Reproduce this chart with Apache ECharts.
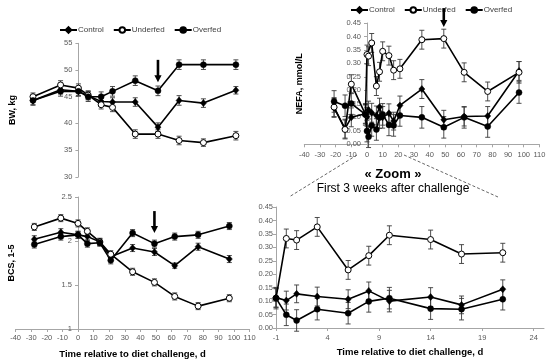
<!DOCTYPE html>
<html>
<head>
<meta charset="utf-8">
<script src="https://cdn.jsdelivr.net/npm/echarts@6/dist/echarts.min.js"></script>
<style>html,body{margin:0;padding:0;background:#fff}#c{width:550px;height:360px}</style>
</head>
<body>
<div id="c"></div>
<script>
// ---------- data ----------
const seriesNames = ['Control', 'Underfed', 'Overfed'];

// Body weight & BCS sampling days
const daysBW = [-28, -11, 0, 6, 14, 21, 35, 49, 62, 77, 97];
const bwControl  = [44.3, 46.3, 46.0, 45.2, 44.1, 44.0, 44.0, 39.3, 44.3, 43.8, 46.2];
const bwUnderfed = [45.0, 47.2, 46.6, 45.3, 43.5, 43.0, 38.0, 38.0, 36.8, 36.4, 37.7];
const bwOverfed  = [44.3, 46.0, 46.0, 45.0, 45.0, 46.0, 48.0, 46.1, 51.0, 51.0, 51.0];
const bwSEControl  = [0.8, 0.8, 0.8, 0.8, 0.9, 0.8, 0.8, 0.8, 0.9, 0.8, 0.7];
const bwSEUnderfed = [0.7, 0.8, 0.8, 0.8, 0.8, 0.8, 0.8, 0.8, 0.8, 0.7, 0.8];
const bwSEOverfed  = [0.9, 0.9, 0.9, 0.9, 0.9, 0.9, 0.9, 0.9, 0.9, 0.9, 0.9];

const bcsControl  = [2.02, 2.10, 2.07, 2.05, 1.99, 1.82, 1.92, 1.875, 1.72, 1.935, 1.795];
const bcsUnderfed = [2.16, 2.26, 2.20, 2.11, 1.99, 1.85, 1.65, 1.53, 1.37, 1.26, 1.35];
const bcsOverfed  = [1.96, 2.05, 2.07, 1.97, 1.98, 1.78, 2.09, 1.97, 2.05, 2.07, 2.17];
const bcsSEControl  = [0.04, 0.04, 0.04, 0.04, 0.04, 0.04, 0.04, 0.04, 0.03, 0.04, 0.04];
const bcsSEUnderfed = [0.04, 0.04, 0.04, 0.04, 0.04, 0.04, 0.04, 0.04, 0.04, 0.04, 0.04];
const bcsSEOverfed  = [0.04, 0.04, 0.04, 0.04, 0.04, 0.04, 0.04, 0.04, 0.04, 0.04, 0.04];

// NEFA sampling days
const daysNEFA = [-21, -14, -10, -1, 0, 1, 3, 6, 8, 10, 14, 17, 21, 35, 49, 62, 77, 97];
const nefaControl  = [0.135, 0.058, 0.100, 0.113, 0.102, 0.127, 0.117, 0.107, 0.138, 0.100, 0.115, 0.086, 0.144, 0.205, 0.091, 0.103, 0.105, 0.272];
const nefaUnderfed = [0.138, 0.055, 0.223, 0.111, 0.333, 0.327, 0.376, 0.216, 0.269, 0.345, 0.329, 0.275, 0.280, 0.388, 0.392, 0.267, 0.196, 0.267];
const nefaOverfed  = [0.159, 0.143, 0.151, 0.111, 0.049, 0.028, 0.070, 0.055, 0.099, 0.111, 0.072, 0.070, 0.107, 0.100, 0.063, 0.100, 0.066, 0.192];
const nefaSEControl  = [0.035, 0.035, 0.035, 0.035, 0.035, 0.033, 0.035, 0.035, 0.033, 0.040, 0.035, 0.033, 0.035, 0.035, 0.035, 0.035, 0.035, 0.035];
const nefaSEUnderfed = [0.035, 0.035, 0.035, 0.035, 0.035, 0.035, 0.035, 0.035, 0.035, 0.035, 0.035, 0.035, 0.035, 0.035, 0.035, 0.035, 0.035, 0.040];
const nefaSEOverfed  = [0.040, 0.040, 0.040, 0.040, 0.040, 0.040, 0.040, 0.040, 0.040, 0.040, 0.040, 0.040, 0.040, 0.040, 0.040, 0.040, 0.040, 0.040];

// zoom window (first 3 weeks)
const zoomFrom = -1, zoomTo = 21;

// arrows marking day 49 : [day, start value, tip value]
const arrowBW   = [49, 51.9, 47.7];
const arrowBCS  = [49, 2.34, 2.09];
const arrowNEFA = [49, 0.505, 0.435];

const xTitle = 'Time relative to diet challenge, d';

// ---------- layout ----------
const W = 550;
const grids = [
  { left: 13.5, right: 293, top: 43.3, bottom: 183.2 },   // BW
  { left: 15.6, right: 300.4, top: 197, bottom: 31 },     // BCS
  { left: 304.3, right: 10.6, top: 23, bottom: 215.7 },   // NEFA
  { left: 276, right: 6, top: 207, bottom: 32 }           // NEFA zoom
];
const xRanges = [[-40, 110], [-40, 110], [-40, 110], [zoomFrom, 25]];
// offset that puts a y axis where x = 0 (axis crossing like the original)
function zeroOffset(g, r) {
  const w = W - grids[g].left - grids[g].right;
  return -(0 - r[0]) / (r[1] - r[0]) * w;
}

// ---------- helpers ----------
const FONT = 'Liberation Sans, Arial, sans-serif';
const AXC = '#a6a6a6', LBC = '#595959';

const symStyles = {
  Control:  { symbol: 'diamond', symbolSize: [6, 7], itemStyle: { color: '#000', borderColor: '#000', borderWidth: 0.5 } },
  Underfed: { symbol: 'circle', symbolSize: 6, itemStyle: { color: '#fff', borderColor: '#000', borderWidth: 1 } },
  Overfed:  { symbol: 'circle', symbolSize: 6, itemStyle: { color: '#000', borderColor: '#000', borderWidth: 0.5 } }
};

function lineSeries(name, idx, days, vals) {
  const s = symStyles[name];
  return {
    name: name, type: 'line', xAxisIndex: idx, yAxisIndex: idx, z: 3,
    symbol: s.symbol, symbolSize: s.symbolSize, itemStyle: s.itemStyle,
    lineStyle: { color: '#000', width: 1.6 },
    data: days.map((d, i) => [d, vals[i]])
  };
}

function errRender(params, api) {
  const x = api.value(0), y = api.value(1), e = api.value(2);
  const t = api.coord([x, y + e]), b = api.coord([x, y - e]);
  const w = 2.5;
  const st = { stroke: '#3a3a3a', lineWidth: 0.9 };
  return { type: 'group', children: [
    { type: 'line', shape: { x1: t[0], y1: t[1], x2: b[0], y2: b[1] }, style: st },
    { type: 'line', shape: { x1: t[0] - w, y1: t[1], x2: t[0] + w, y2: t[1] }, style: st },
    { type: 'line', shape: { x1: b[0] - w, y1: b[1], x2: b[0] + w, y2: b[1] }, style: st }
  ]};
}
function errSeries(idx, days, vals, se) {
  return { type: 'custom', xAxisIndex: idx, yAxisIndex: idx, z: 2, silent: true,
    renderItem: errRender, encode: { x: 0, y: 1 },
    data: days.map((d, i) => [d, vals[i], se[i]]) };
}
function arrowRender(params, api) {
  const x = api.value(0);
  const p1 = api.coord([x, api.value(1)]), p2 = api.coord([x, api.value(2)]);
  const hh = 7, hw = 3.6;
  return { type: 'group', children: [
    { type: 'line', shape: { x1: p1[0], y1: p1[1], x2: p2[0], y2: p2[1] - hh + 1 }, style: { stroke: '#000', lineWidth: 2.6 } },
    { type: 'polygon', shape: { points: [[p2[0] - hw, p2[1] - hh], [p2[0] + hw, p2[1] - hh], [p2[0], p2[1]]] }, style: { fill: '#000' } }
  ]};
}
function arrowSeries(idx, a) {
  return { type: 'custom', xAxisIndex: idx, yAxisIndex: idx, z: 4, silent: true, clip: false,
    renderItem: arrowRender, encode: { x: 0, y: 1 }, data: [a] };
}

const lblStyle = { fontSize: 7.5, color: LBC, fontFamily: FONT };
function yAxisCfg(idx, min, max, interval, opts) {
  return Object.assign({
    type: 'value', gridIndex: idx, min: min, max: max, interval: interval,
    axisLine: { show: true, onZero: false, lineStyle: { color: AXC, width: 1 } },
    axisTick: { show: true, length: 3, lineStyle: { color: AXC } },
    axisLabel: Object.assign({ margin: 6 }, lblStyle),
    splitLine: { show: false },
    nameLocation: 'middle', nameRotate: 90,
    nameTextStyle: { fontSize: 9, fontWeight: 'bold', color: '#000', fontFamily: FONT }
  }, opts || {});
}
function xAxisCfg(idx, interval, opts) {
  return Object.assign({
    type: 'value', gridIndex: idx, min: xRanges[idx][0], max: xRanges[idx][1], interval: interval,
    axisLine: { show: true, onZero: false, lineStyle: { color: AXC, width: 1 } },
    axisTick: { show: true, length: 3, lineStyle: { color: AXC } },
    axisLabel: Object.assign({ margin: 5 }, lblStyle),
    splitLine: { show: false },
    nameLocation: 'middle',
    nameTextStyle: { fontSize: 9.5, fontWeight: 'bold', color: '#000', fontFamily: FONT }
  }, opts || {});
}

const zoomIdx = daysNEFA.map((d, i) => i).filter(i => daysNEFA[i] >= zoomFrom && daysNEFA[i] <= zoomTo);
const pick = arr => zoomIdx.map(i => arr[i]);
const zDays = pick(daysNEFA);

const series = [
  errSeries(0, daysBW, bwControl, bwSEControl),
  errSeries(0, daysBW, bwUnderfed, bwSEUnderfed),
  errSeries(0, daysBW, bwOverfed, bwSEOverfed),
  lineSeries('Control', 0, daysBW, bwControl),
  lineSeries('Underfed', 0, daysBW, bwUnderfed),
  lineSeries('Overfed', 0, daysBW, bwOverfed),
  arrowSeries(0, arrowBW),

  errSeries(1, daysBW, bcsControl, bcsSEControl),
  errSeries(1, daysBW, bcsUnderfed, bcsSEUnderfed),
  errSeries(1, daysBW, bcsOverfed, bcsSEOverfed),
  lineSeries('Control', 1, daysBW, bcsControl),
  lineSeries('Underfed', 1, daysBW, bcsUnderfed),
  lineSeries('Overfed', 1, daysBW, bcsOverfed),
  arrowSeries(1, arrowBCS),

  errSeries(2, daysNEFA, nefaControl, nefaSEControl),
  errSeries(2, daysNEFA, nefaUnderfed, nefaSEUnderfed),
  errSeries(2, daysNEFA, nefaOverfed, nefaSEOverfed),
  lineSeries('Control', 2, daysNEFA, nefaControl),
  lineSeries('Underfed', 2, daysNEFA, nefaUnderfed),
  lineSeries('Overfed', 2, daysNEFA, nefaOverfed),
  arrowSeries(2, arrowNEFA),

  errSeries(3, zDays, pick(nefaControl), pick(nefaSEControl)),
  errSeries(3, zDays, pick(nefaUnderfed), pick(nefaSEUnderfed)),
  errSeries(3, zDays, pick(nefaOverfed), pick(nefaSEOverfed)),
  lineSeries('Control', 3, zDays, pick(nefaControl)),
  lineSeries('Underfed', 3, zDays, pick(nefaUnderfed)),
  lineSeries('Overfed', 3, zDays, pick(nefaOverfed))
];

const fmt2 = v => v.toFixed(2);
const legendBase = { data: seriesNames, itemWidth: 17, itemHeight: 7, itemGap: 9, selectedMode: false,
  textStyle: { fontSize: 8, color: '#404040', fontFamily: FONT, padding: [0, 0, 0, -4] } };

const option = {
  animation: false,
  backgroundColor: '#fff',
  textStyle: { fontFamily: FONT },
  legend: [
    Object.assign({ left: 54, top: 21 }, legendBase),
    Object.assign({ left: 345, top: 1 }, legendBase)
  ],
  grid: grids.map(g => Object.assign({ outerBoundsMode: 'none', containLabel: false }, g)),
  xAxis: [
    xAxisCfg(0, 10, { show: false }),
    xAxisCfg(1, 10, { name: xTitle, nameGap: 20 }),
    xAxisCfg(2, 10, { axisLabel: Object.assign({ margin: 7 }, lblStyle) }),
    xAxisCfg(3, 5, { name: xTitle, nameGap: 19,
      axisLabel: Object.assign({ margin: 6, showMaxLabel: false }, lblStyle) })
  ],
  yAxis: [
    yAxisCfg(0, 30, 55, 5, { name: 'BW, kg', nameGap: 61, offset: zeroOffset(0, xRanges[0]) }),
    yAxisCfg(1, 1, 2.5, 0.5, { name: 'BCS, 1-5', nameGap: 62, offset: zeroOffset(1, xRanges[1]) }),
    yAxisCfg(2, 0, 0.45, 0.05, { name: 'NEFA, mmol/L', nameGap: 63, offset: zeroOffset(2, xRanges[2]),
      axisLabel: Object.assign({ margin: 6, formatter: fmt2 }, lblStyle) }),
    yAxisCfg(3, 0, 0.45, 0.05, { axisLabel: Object.assign({ margin: 3, formatter: fmt2 }, lblStyle) })
  ],
  graphic: [
    { type: 'line', shape: { x1: 357, y1: 155, x2: 289, y2: 197 }, style: { stroke: '#404040', lineWidth: 0.8, lineDash: [3, 2] } },
    { type: 'line', shape: { x1: 404, y1: 155, x2: 498, y2: 197 }, style: { stroke: '#404040', lineWidth: 0.8, lineDash: [3, 2] } },
    { type: 'text', x: 393, y: 174, style: { text: '« Zoom »', font: 'bold 13px ' + FONT, fill: '#000', textAlign: 'center', textVerticalAlign: 'middle' } },
    { type: 'text', x: 393, y: 189, style: { text: 'First 3 weeks after challenge', font: '12px ' + FONT, fill: '#000', textAlign: 'center', textVerticalAlign: 'middle' } }
  ],
  series: series
};

const chart = echarts.init(document.getElementById('c'), null, { renderer: 'canvas' });
chart.setOption(option);
</script>
</body>
</html>
